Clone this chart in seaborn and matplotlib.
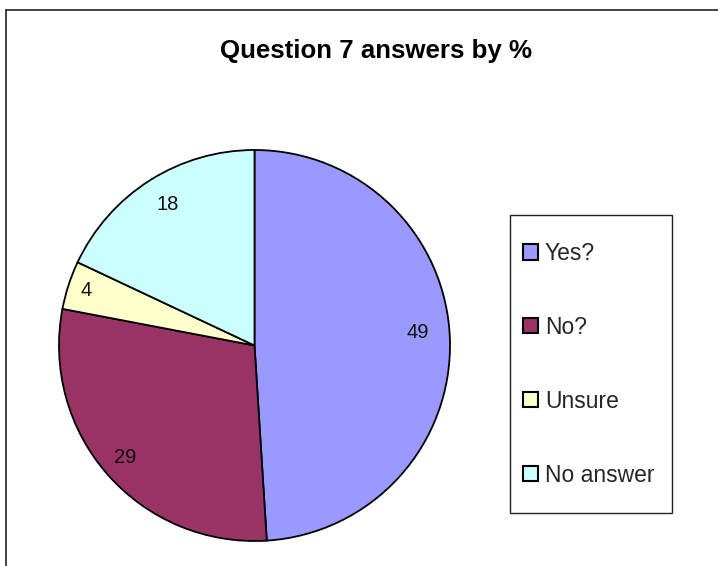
import matplotlib
matplotlib.use('Agg')
import numpy as np
import matplotlib.pyplot as plt
import seaborn as sns
from matplotlib.patches import Rectangle
from matplotlib.lines import Line2D

# ---- data ----
categories = ['Yes?', 'No?', 'Unsure', 'No answer']
values = [49, 29, 4, 18]
title = 'Question 7 answers by %'

# ---- style ----
colors = ['#9999FF', '#993366', '#FFFFCC', '#CCFFFF']
label_dist = [0.836, 0.873, 0.907, 0.848]
label_rot_offset = [2.9, -0.5, 0.0, -0.7]

sns.set_theme(style='white')
plt.rcParams['font.family'] = ['Liberation Sans', 'DejaVu Sans']

W, H = 718, 566
fig = plt.figure(figsize=(W / 100, H / 100), dpi=100)
fig.patch.set_facecolor('white')

cx, cy, r = 254.5, 345.5, 195.5
ax = fig.add_axes([(cx - r) / W, 1 - (cy + r) / H, 2 * r / W, 2 * r / H])
wedges, _ = ax.pie(values, colors=colors, startangle=90, counterclock=False,
                   wedgeprops=dict(edgecolor='black', linewidth=1.3))
ax.set_xlim(-1, 1)
ax.set_ylim(-1, 1)
ax.axis('off')
for w, v, d, o in zip(wedges, values, label_dist, label_rot_offset):
    w.set_clip_on(False)
    th = np.deg2rad((w.theta1 + w.theta2) / 2 + o)
    ax.text(d * np.cos(th), d * np.sin(th), f'{v}', ha='center', va='center',
            fontsize=14.5, color='#111111')

fig.text(376 / W, 1 - 51 / H, title, ha='center', va='center',
         fontsize=18.6, fontweight='bold', color='black')

# legend
leg = fig.legend(handles=wedges, labels=categories, loc='upper left',
                 bbox_to_anchor=(523 / W, 1 - 242 / H), frameon=False,
                 fontsize=16.5, handlelength=0.65, handleheight=0.65,
                 handletextpad=0.3, labelspacing=2.22, borderpad=0,
                 borderaxespad=0)
for h in leg.legend_handles:
    h.set_edgecolor('black')
    h.set_linewidth(1.5)
fig.add_artist(Rectangle((510 / W, 1 - 513 / H), 162 / W, 298 / H,
                         transform=fig.transFigure, fill=False,
                         edgecolor='#222222', linewidth=1.0))

# outer frame (cropped)
fig.add_artist(Line2D([6 / W, 6 / W], [0, 1 - 10 / H], transform=fig.transFigure,
                      color='#222222', linewidth=1.2))
fig.add_artist(Line2D([6 / W, 1], [1 - 10 / H, 1 - 10 / H], transform=fig.transFigure,
                      color='#222222', linewidth=1.2))

fig.savefig('out.png', dpi=100, facecolor='white')
